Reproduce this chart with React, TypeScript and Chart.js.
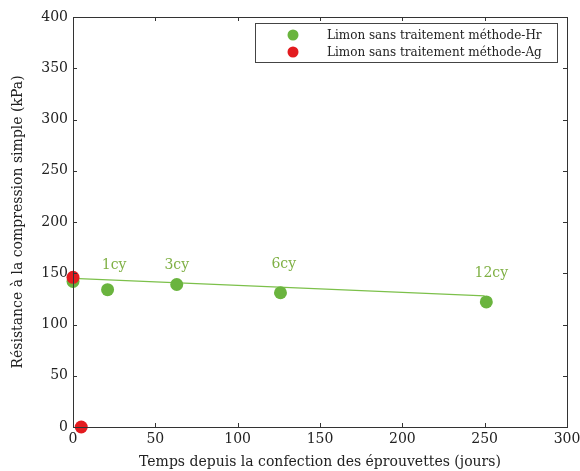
import React, { useEffect, useRef } from "react";
import { Chart, registerables } from "chart.js";
Chart.register(...registerables);

const hrDays = [0, 21, 63, 126, 251];
const hrStrength = [142, 134, 139, 131, 122];
const agDays = [0, 5];
const agStrength = [146, 0];
const trendDays = [0, 250];
const trendStrength = [145, 128];
const cycleLabels = ["1cy", "3cy", "6cy", "12cy"];
const cycleLabelDays = [25, 63, 128, 254];
const cycleLabelStrength = [158, 158, 159, 150];
const legendLabels = ["Limon sans traitement méthode-Hr", "Limon sans traitement méthode-Ag"];
const xTitle = "Temps depuis la confection des éprouvettes (jours)";
const yTitle = "Résistance à la compression simple (kPa)";
const xMin = 0, xMax = 300, xStep = 50;
const yMin = 0, yMax = 400, yStep = 50;

const GREEN = "#6ab43e";
const RED = "#e31b1f";
const LABEL_GREEN = "#7fb044";
const LINE_GREEN = "#7cc04a";
const AXIS = "#333333";
const FONT = "'DejaVu Serif', 'Liberation Serif', serif";

const framePlugin = {
  id: "frameAndNotes",
  afterDatasetsDraw(chart: any) {
    const { ctx, chartArea, scales } = chart;
    const { left, right, top, bottom } = chartArea;
    const xs = scales.x, ys = scales.y;
    ctx.save();
    ctx.strokeStyle = AXIS;
    ctx.lineWidth = 1;
    ctx.strokeRect(Math.round(left) + 0.5, Math.round(top) + 0.5, Math.round(right - left), Math.round(bottom - top));
    const tl = 4;
    ctx.beginPath();
    for (let v = xMin; v <= xMax; v += xStep) {
      const px = Math.round(xs.getPixelForValue(v)) + 0.5;
      ctx.moveTo(px, bottom); ctx.lineTo(px, bottom - tl);
      ctx.moveTo(px, top); ctx.lineTo(px, top + tl);
    }
    for (let v = yMin; v <= yMax; v += yStep) {
      const py = Math.round(ys.getPixelForValue(v)) + 0.5;
      ctx.moveTo(left, py); ctx.lineTo(left + tl, py);
      ctx.moveTo(right, py); ctx.lineTo(right - tl, py);
    }
    ctx.stroke();
    ctx.fillStyle = LABEL_GREEN;
    ctx.font = `14px ${FONT}`;
    ctx.textAlign = "center";
    ctx.textBaseline = "middle";
    cycleLabels.forEach((t, i) => {
      ctx.fillText(t, xs.getPixelForValue(cycleLabelDays[i]), ys.getPixelForValue(cycleLabelStrength[i]));
    });
    const bx = 255, by = 23, bw = 302, bh = 39;
    ctx.fillStyle = "#ffffff";
    ctx.fillRect(bx, by, bw, bh);
    ctx.strokeStyle = "#444444";
    ctx.strokeRect(bx + 0.5, by + 0.5, bw, bh);
    const colors = [GREEN, RED];
    ctx.font = `12px ${FONT}`;
    ctx.textAlign = "left";
    legendLabels.forEach((t, i) => {
      const cy = by + 12 + i * 17;
      ctx.fillStyle = colors[i];
      ctx.beginPath();
      ctx.arc(bx + 38, cy, 5.5, 0, Math.PI * 2);
      ctx.fill();
      ctx.fillStyle = "#222222";
      ctx.fillText(t, bx + 72, cy + 1);
    });
    ctx.restore();
  },
};

export default function App() {
  const ref = useRef<HTMLCanvasElement | null>(null);
  useEffect(() => {
    if (!ref.current) return;
    const chart = new Chart(ref.current, {
      type: "scatter",
      data: {
        datasets: [
          {
            label: legendLabels[1],
            data: agDays.map((d, i) => ({ x: d, y: agStrength[i] })),
            backgroundColor: RED,
            borderColor: RED,
            pointRadius: 6.5,
            borderWidth: 0,
            clip: false,
            order: 0,
          } as any,
          {
            label: legendLabels[0],
            data: hrDays.map((d, i) => ({ x: d, y: hrStrength[i] })),
            backgroundColor: GREEN,
            borderColor: GREEN,
            pointRadius: 6.5,
            borderWidth: 0,
            clip: false,
            order: 1,
          } as any,
          {
            type: "line",
            label: "trend",
            data: trendDays.map((d, i) => ({ x: d, y: trendStrength[i] })),
            borderColor: LINE_GREEN,
            borderWidth: 1.2,
            pointRadius: 0,
            showLine: true,
            fill: false,
            order: 2,
          } as any,
        ],
      },
      options: {
        animation: false,
        responsive: false,
        maintainAspectRatio: false,
        layout: { padding: { left: 10, right: 13, top: 17, bottom: 0 } },
        plugins: { legend: { display: false }, tooltip: { enabled: false } },
        scales: {
          x: {
            type: "linear",
            min: xMin,
            max: xMax,
            grid: { display: false, drawTicks: false, tickLength: 0 },
            border: { display: false },
            ticks: { stepSize: xStep, color: "#222", font: { family: FONT, size: 14 }, padding: 4, maxRotation: 0 },
            title: { display: true, text: xTitle, color: "#222", font: { family: FONT, size: 14 }, padding: { top: 0, bottom: 0 } },
            afterFit: (s: any) => { s.height = 44; s.paddingLeft = 0; s.paddingRight = 0; },
          },
          y: {
            type: "linear",
            min: yMin,
            max: yMax,
            grid: { display: false, drawTicks: false, tickLength: 0 },
            border: { display: false },
            ticks: { stepSize: yStep, color: "#222", font: { family: FONT, size: 14 }, padding: 5 },
            title: { display: true, text: yTitle, color: "#222", font: { family: FONT, size: 14 }, padding: { top: 0, bottom: 4 } },
            afterFit: (s: any) => { s.width = 63; s.paddingTop = 0; s.paddingBottom = 0; },
          },
        },
      },
      plugins: [framePlugin],
    });
    return () => chart.destroy();
  }, []);
  return (
    <div style={{ position: "fixed", left: 0, top: 0, width: 580, height: 471, background: "#fff" }}>
      <canvas ref={ref} width={580} height={471} style={{ width: 580, height: 471, display: "block" }} />
    </div>
  );
}
